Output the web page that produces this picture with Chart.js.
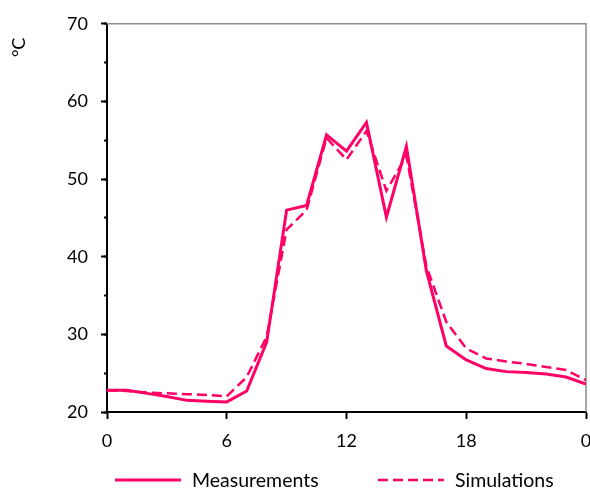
<!DOCTYPE html>
<html>
<head>
<meta charset="utf-8">
<script src="https://cdn.jsdelivr.net/npm/chart.js@4.4.1/dist/chart.umd.min.js"></script>
<style>
    html, body { margin: 0; padding: 0; background: #fff; }
    #wrap { width: 590px; height: 490px; }
</style>
</head>
<body>
<div id="wrap"><canvas id="tempChart"></canvas></div>
<script>
const hours = [0, 1, 2, 3, 4, 5, 6, 7, 8, 9, 10, 11, 12, 13, 14, 15, 16, 17, 18, 19, 20, 21, 22, 23, 24];
const measurements = [22.8, 22.8, 22.4, 22.0, 21.5, 21.4, 21.3, 22.7, 29.0, 46.0, 46.6, 55.7, 53.6, 57.3, 45.1, 54.2, 38.2, 28.5, 26.7, 25.6, 25.2, 25.1, 24.9, 24.5, 23.6];
const simulations = [22.8, 22.7, 22.5, 22.4, 22.3, 22.2, 22.0, 24.5, 29.7, 43.5, 46.0, 55.3, 52.5, 56.2, 48.5, 53.0, 38.8, 31.6, 28.2, 26.9, 26.5, 26.2, 25.8, 25.4, 24.1];
const xTicks = [0, 6, 12, 18, 24];

const lineColor = '#FF0066';
const fontFamily = 'Lato, "Liberation Sans", sans-serif';

// grey frame on top and right of the plot area
const framePlugin = {
    id: 'frame',
    beforeDatasetsDraw(chart) {
        const { ctx, chartArea } = chart;
        ctx.save();
        ctx.strokeStyle = '#8c8c8c';
        ctx.lineWidth = 1.5;
        ctx.beginPath();
        ctx.moveTo(chartArea.left, chartArea.top);
        ctx.lineTo(chartArea.right, chartArea.top);
        ctx.lineTo(chartArea.right, chartArea.bottom);
        ctx.stroke();
        ctx.restore();
    }
};

// legend below the x axis, spaced like the original
const legendPlugin = {
    id: 'bottomLegend',
    afterDraw(chart) {
        const { ctx } = chart;
        const y = 480;
        const starts = [115, 378];
        ctx.save();
        ctx.font = '19.5px ' + fontFamily;
        ctx.textBaseline = 'middle';
        ctx.fillStyle = '#000';
        chart.data.datasets.forEach((ds, i) => {
            const x = starts[i];
            ctx.strokeStyle = ds.borderColor;
            ctx.lineWidth = ds.borderWidth;
            ctx.setLineDash(ds.borderDash || []);
            ctx.beginPath();
            ctx.moveTo(x, y);
            ctx.lineTo(x + 66, y);
            ctx.stroke();
            ctx.setLineDash([]);
            ctx.fillText(ds.label, x + 77, y + 1);
        });
        ctx.restore();
    }
};

const toPoints = values => hours.map((h, i) => ({ x: h, y: values[i] }));

new Chart(document.getElementById('tempChart'), {
    type: 'line',
    data: {
        datasets: [{
            label: 'Measurements',
            data: toPoints(measurements),
            borderColor: lineColor,
            backgroundColor: lineColor,
            borderWidth: 3,
            pointRadius: 0,
            tension: 0
        }, {
            label: 'Simulations',
            data: toPoints(simulations),
            borderColor: lineColor,
            backgroundColor: lineColor,
            borderWidth: 2.5,
            borderDash: [10, 5],
            pointRadius: 0,
            tension: 0
        }]
    },
    options: {
        responsive: true,
        maintainAspectRatio: false,
        animation: false,
        layout: { padding: { top: 22, right: 4, left: 0, bottom: 38 } },
        plugins: {
            legend: { display: false },
            tooltip: { enabled: false }
        },
        scales: {
            x: {
                type: 'linear',
                min: 0,
                max: 24,
                afterBuildTicks: scale => { scale.ticks = xTicks.map(v => ({ value: v })); },
                afterFit: scale => { scale.height = 40; scale.paddingRight = 0; scale.paddingLeft = 0; },
                ticks: {
                    color: '#000',
                    padding: 11,
                    font: { family: fontFamily, size: 18 },
                    callback: v => v % 24
                },
                grid: { display: true, drawOnChartArea: false, tickLength: 7, tickColor: '#000', tickWidth: 2 },
                border: { color: '#000', width: 2 }
            },
            y: {
                min: 20,
                max: 70,
                weight: 1,
                afterFit: scale => { scale.width = 107; },
                ticks: {
                    stepSize: 10,
                    color: '#000',
                    padding: 13,
                    font: { family: fontFamily, size: 18 }
                },
                title: {
                    display: true,
                    text: '°C   ',
                    align: 'end',
                    color: '#000',
                    padding: { top: 8, bottom: 0 },
                    font: { family: fontFamily, size: 18 }
                },
                grid: { display: true, drawOnChartArea: false, tickLength: 6, tickColor: '#000', tickWidth: 2 },
                border: { color: '#000', width: 2 }
            },
            yMinor: {
                position: 'left',
                min: 20,
                max: 70,
                weight: 0,
                afterFit: scale => { scale.width = 0; },
                ticks: { stepSize: 5, display: false },
                grid: { display: true, drawOnChartArea: false, tickLength: 3, tickColor: '#000', tickWidth: 2 },
                border: { display: false }
            }
        }
    },
    plugins: [framePlugin, legendPlugin]
});
</script>
</body>
</html>
